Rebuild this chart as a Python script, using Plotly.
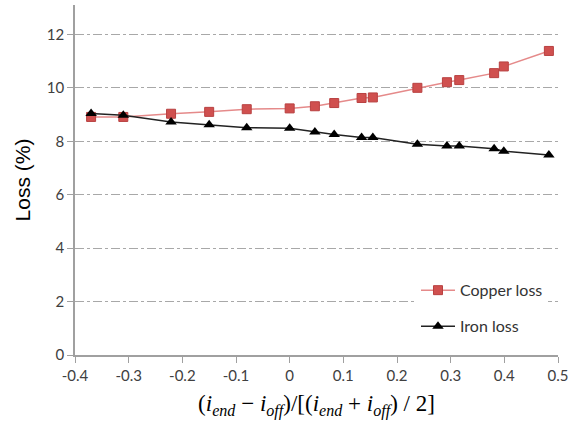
import plotly.graph_objects as go

x_vals = [-0.370, -0.310, -0.221, -0.150, -0.080, 0.000, 0.047, 0.083, 0.134, 0.155,
          0.238, 0.293, 0.316, 0.381, 0.399, 0.483]
copper_loss = [8.91, 8.91, 9.03, 9.10, 9.20, 9.23, 9.31, 9.43, 9.62, 9.64,
               10.00, 10.21, 10.29, 10.55, 10.80, 11.38]
iron_loss = [9.04, 8.97, 8.72, 8.62, 8.51, 8.49, 8.35, 8.25, 8.14, 8.14,
             7.89, 7.82, 7.82, 7.72, 7.63, 7.49]
x_ticks = [-0.4, -0.3, -0.2, -0.1, 0, 0.1, 0.2, 0.3, 0.4, 0.5]
x_tick_text = ["-0.4", "-0.3", "-0.2", "-0.1", "0", "0.1", "0.2", "0.3", "0.4", "0.5"]
y_ticks = [0, 2, 4, 6, 8, 10, 12]

fig = go.Figure()
fig.add_trace(go.Scatter(
    x=x_vals, y=copper_loss, mode="lines+markers", name="Copper loss",
    line=dict(color="#E58A8A", width=1.5),
    marker=dict(symbol="square", size=9, color="#D0504F", line=dict(color="#B84040", width=1)),
    legend="legend"))
fig.add_trace(go.Scatter(
    x=x_vals, y=iron_loss, mode="lines+markers", name="Iron loss",
    line=dict(color="#222222", width=1.5),
    marker=dict(symbol="triangle-up", size=10, color="#000000"),
    legend="legend2"))

leg_common = dict(bgcolor="white", font=dict(family="Lato", size=16, color="#333333"),
                  xanchor="left", yanchor="middle", itemwidth=34, borderwidth=0)

fig.update_layout(
    width=573, height=426,
    margin=dict(l=75, r=15, t=5, b=71),
    paper_bgcolor="white", plot_bgcolor="white",
    showlegend=True,
    legend=dict(x=0.706, y=0.185, **leg_common),
    legend2=dict(x=0.706, y=0.082, **leg_common),
    xaxis=dict(range=[-0.4, 0.5], tickvals=x_ticks, ticktext=x_tick_text,
               showgrid=False, zeroline=False, showline=True, linecolor="#A0A0A0", linewidth=1.5,
               ticks="outside", ticklen=6, tickcolor="#A0A0A0",
               tickfont=dict(family="Lato", size=15, color="#404040"),
               title=dict(text="(<i>i</i><sub><i>end</i></sub> − <i>i</i><sub><i>off</i></sub>)/[(<i>i</i><sub><i>end</i></sub> + <i>i</i><sub><i>off</i></sub>) / 2]",
                          font=dict(family="Liberation Serif", size=23, color="#000000"), standoff=12)),
    yaxis=dict(range=[0, 13.1], tickvals=y_ticks,
               showgrid=True, gridcolor="#A8A8A8", griddash="dashdot", gridwidth=1,
               zeroline=False, showline=True, linecolor="#A0A0A0", linewidth=1.5,
               ticks="outside", ticklen=6, tickcolor="#A0A0A0",
               tickfont=dict(family="Lato", size=15, color="#404040"),
               title=dict(text="Loss (%)", font=dict(family="Liberation Sans", size=21, color="#000000"), standoff=10)),
)

fig.write_html("out.html")
